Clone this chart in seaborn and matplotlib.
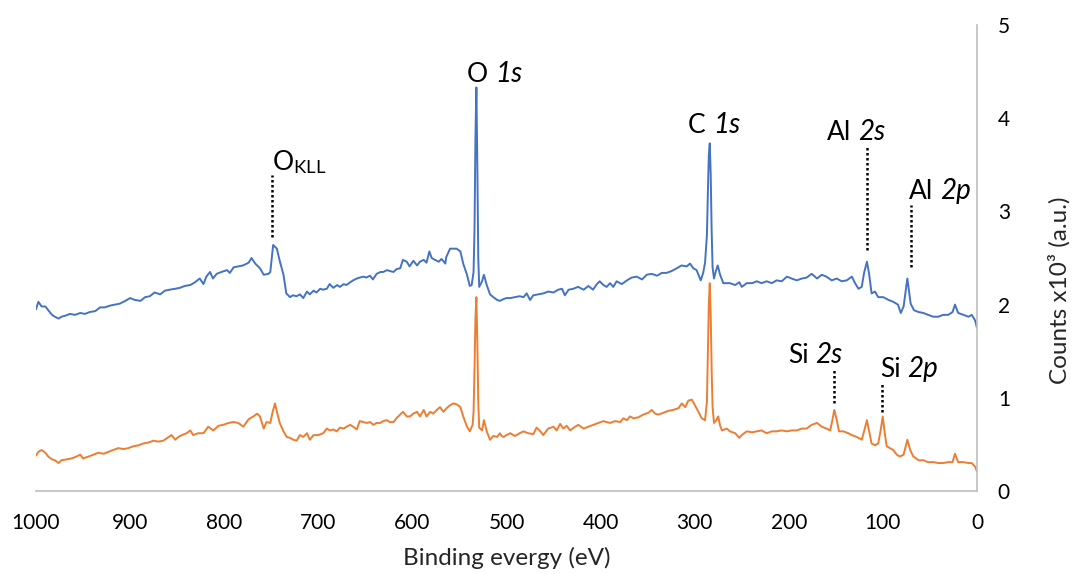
import matplotlib
matplotlib.use("Agg")
import matplotlib.pyplot as plt
import seaborn as sns
import pandas as pd

# ---- data ----
blue_energy = [
    1000, 997.5, 994, 990, 987, 983, 980, 976, 973, 969, 964, 958.6, 953, 948, 943, 937, 932, 927,
    921, 916, 911, 905, 900, 895, 889, 884, 879, 874, 868, 863, 858, 852, 847, 842, 836, 831, 826,
    822, 819, 815, 812, 808, 803, 797, 794, 790, 785, 780, 774, 771, 767, 762, 758, 753, 751, 748,
    744, 741, 737, 734, 730, 727, 723, 719.5, 716, 712, 709, 705, 702, 698, 695, 691, 688, 684, 680,
    677, 673, 670, 666, 663, 659, 656, 652, 649, 645, 642, 638, 634, 631, 627, 624, 620, 617, 613,
    610, 606, 603, 599, 595, 592, 588, 585, 582, 579.5, 576, 572, 569, 565, 564, 560, 556.5, 553,
    549, 546, 542, 539, 537, 535, 534, 533, 532, 531, 530, 529, 526, 524, 521, 517.5, 514, 510, 507,
    503, 500, 496, 491, 486, 482, 478.5, 475, 471.5, 466, 461, 455.5, 450, 445, 441, 438, 434, 429,
    424, 418, 413, 408, 404, 401, 397, 393.5, 390, 386.5, 383, 377.5, 372, 367, 361.6, 356, 351,
    345.7, 340, 335, 330, 324.5, 319, 314, 308.5, 305, 301.5, 298, 293.6, 291, 289, 287, 286, 285,
    284, 283, 282, 281, 279.5, 277.5, 275.5, 273, 269.6, 266, 262.5, 257, 252.6, 250, 244.7, 239,
    234, 229, 223.5, 218, 213, 207.5, 202, 197, 191.6, 186, 181, 175.7, 170, 165, 160, 154.4, 149,
    143.8, 138.5, 133, 129.6, 126, 122.5, 120, 117, 114.8, 112, 108.4, 105, 99.6, 94, 89, 84, 81, 78,
    74, 70.5, 67, 62, 57, 52, 46.4, 41, 36, 30.5, 26, 23.4, 20, 14.6, 9, 5.6, 2, 0]
blue_counts = [
    1.95, 2.03, 1.98, 1.98, 1.94, 1.89, 1.87, 1.85, 1.87, 1.88, 1.90, 1.89, 1.91, 1.90, 1.92, 1.93, 1.97, 1.97,
    1.99, 2.00, 2.01, 2.04, 2.07, 2.05, 2.04, 2.08, 2.09, 2.13, 2.11, 2.15, 2.16, 2.17, 2.18, 2.20, 2.21, 2.24, 2.28,
    2.22, 2.30, 2.35, 2.28, 2.33, 2.35, 2.37, 2.34, 2.40, 2.41, 2.42, 2.45, 2.50, 2.44, 2.39, 2.32, 2.33, 2.35, 2.64,
    2.60, 2.47, 2.32, 2.12, 2.08, 2.10, 2.09, 2.11, 2.07, 2.14, 2.11, 2.15, 2.13, 2.17, 2.16, 2.17, 2.22, 2.18, 2.21,
    2.19, 2.22, 2.21, 2.24, 2.26, 2.28, 2.29, 2.30, 2.29, 2.31, 2.27, 2.33, 2.35, 2.35, 2.37, 2.36, 2.35, 2.38, 2.39,
    2.48, 2.46, 2.41, 2.47, 2.42, 2.46, 2.48, 2.45, 2.57, 2.50, 2.48, 2.46, 2.49, 2.44, 2.51, 2.60, 2.60, 2.60,
    2.57, 2.44, 2.32, 2.20, 2.21, 2.35, 2.80, 3.80, 4.33, 3.50, 2.50, 2.19, 2.25, 2.32, 2.21, 2.11, 2.08, 2.05, 2.04,
    2.06, 2.07, 2.07, 2.08, 2.09, 2.08, 2.12, 2.05, 2.10, 2.11, 2.12, 2.14, 2.13, 2.16, 2.17, 2.10, 2.16, 2.17,
    2.19, 2.16, 2.20, 2.16, 2.22, 2.25, 2.21, 2.19, 2.23, 2.19, 2.25, 2.22, 2.26, 2.29, 2.30, 2.27, 2.32,
    2.33, 2.31, 2.34, 2.34, 2.36, 2.39, 2.42, 2.41, 2.44, 2.39, 2.37, 2.26, 2.34, 2.45, 2.75, 3.20, 3.60,
    3.73, 3.40, 2.80, 2.40, 2.28, 2.36, 2.42, 2.32, 2.23, 2.23, 2.23, 2.21, 2.24, 2.19, 2.23, 2.23,
    2.25, 2.23, 2.25, 2.23, 2.26, 2.25, 2.30, 2.28, 2.26, 2.28, 2.29, 2.33, 2.28, 2.32, 2.30, 2.26, 2.28,
    2.25, 2.26, 2.30, 2.23, 2.17, 2.19, 2.34, 2.46, 2.34, 2.12, 2.14, 2.08, 2.08, 2.05, 2.03, 2.00, 1.91, 1.98,
    2.28, 2.01, 1.94, 1.92, 1.91, 1.89, 1.87, 1.87, 1.89, 1.89, 1.92, 2.00, 1.91, 1.89, 1.87, 1.89, 1.83, 1.75]

orange_energy = [
    1000, 997.5, 994, 990, 987, 983, 980, 976, 973, 967, 962, 957, 953, 950, 944, 939, 934, 928, 923,
    918, 912.5, 907, 902, 896.6, 891, 886, 880.6, 875, 870, 864.7, 859, 856, 852, 848.7, 845, 840, 836,
    833, 827.5, 822, 817, 811.6, 806, 801, 795.6, 790, 785, 779.7, 774, 769, 765, 762, 758, 755, 751,
    748.5, 746, 743.5, 741, 737, 733.6, 730, 726.6, 723, 719.5, 716, 712, 709, 705, 700, 694.7, 691,
    687.6, 684, 680.5, 677, 673, 670, 666, 663, 659, 656, 652, 648.6, 645, 641.5, 638, 634.4, 631, 627,
    624, 620, 617, 613, 610, 606, 602.6, 599, 595, 592, 588, 585, 581, 578, 574, 570.7, 567, 563.5, 560,
    556.5, 553, 549, 546, 542, 539, 536, 535, 534, 533, 532, 531, 530, 529, 526, 524, 521, 517.5, 514,
    510, 507, 505, 503, 500, 496, 491, 486, 482, 477, 471.5, 468, 464, 461, 455.6, 450, 446.7, 443,
    439.6, 436, 432.5, 427, 423.7, 418, 413, 407.8, 402.4, 397, 393.5, 390, 384.7, 379, 375.9, 372,
    368.8, 365, 360, 354.6, 349, 345.7, 342, 338.7, 333, 328, 322.7, 317, 313.8, 310, 306.8, 303, 299.7,
    296, 292.6, 289, 287, 286, 285, 284, 283, 282, 281, 279.5, 277, 275, 273, 271, 266, 262.5, 257,
    252.6, 250, 244.7, 239, 234, 229, 223.5, 218, 213, 207.5, 202, 197, 191.6, 186, 181, 175.7, 170, 165,
    160, 156, 153.7, 151.6, 149, 146.7, 142, 136.8, 133, 127.8, 122.5, 120, 117, 114.8, 112, 108.4, 105,
    102.4, 100.2, 98, 96, 92.5, 89, 85.3, 82, 78, 74, 71, 67.7, 62, 57, 52, 46.4, 41, 36, 30.5, 26, 23.4,
    20, 14.6, 9, 5.6, 2, 0]
orange_counts = [
    0.38, 0.42, 0.44, 0.41, 0.37, 0.34, 0.33, 0.30, 0.33, 0.34, 0.35, 0.37, 0.39, 0.35, 0.37, 0.39, 0.41, 0.40, 0.42,
    0.44, 0.46, 0.45, 0.46, 0.48, 0.49, 0.51, 0.52, 0.54, 0.53, 0.54, 0.58, 0.60, 0.55, 0.58, 0.60, 0.62, 0.65,
    0.60, 0.62, 0.62, 0.69, 0.65, 0.70, 0.71, 0.73, 0.74, 0.73, 0.69, 0.77, 0.80, 0.83, 0.80, 0.67, 0.74, 0.73,
    0.85, 0.94, 0.83, 0.73, 0.64, 0.58, 0.57, 0.55, 0.54, 0.60, 0.58, 0.62, 0.55, 0.60, 0.60, 0.62, 0.67,
    0.65, 0.66, 0.64, 0.68, 0.67, 0.69, 0.71, 0.69, 0.66, 0.75, 0.74, 0.73, 0.74, 0.71, 0.73, 0.73, 0.75, 0.76,
    0.74, 0.74, 0.78, 0.82, 0.85, 0.80, 0.80, 0.83, 0.85, 0.80, 0.87, 0.80, 0.85, 0.83, 0.87, 0.90, 0.85, 0.89, 0.92,
    0.94, 0.93, 0.90, 0.80, 0.69, 0.64, 0.71, 0.85, 1.30, 1.85, 2.08, 1.60, 0.95, 0.68, 0.65, 0.76, 0.64, 0.55, 0.59,
    0.58, 0.62, 0.59, 0.58, 0.60, 0.62, 0.59, 0.62, 0.64, 0.62, 0.61, 0.68, 0.64, 0.60, 0.67, 0.69, 0.65, 0.72,
    0.67, 0.70, 0.65, 0.69, 0.71, 0.67, 0.69, 0.71, 0.73, 0.75, 0.74, 0.73, 0.75, 0.74, 0.78, 0.76,
    0.80, 0.78, 0.79, 0.82, 0.84, 0.87, 0.83, 0.82, 0.84, 0.86, 0.87, 0.89, 0.94, 0.90, 0.97, 0.98, 0.92,
    0.85, 0.78, 0.76, 0.96, 1.50, 2.00, 2.23, 1.90, 1.30, 0.90, 0.73, 0.76, 0.80, 0.70, 0.65, 0.67, 0.64, 0.62,
    0.57, 0.60, 0.64, 0.63, 0.64, 0.65, 0.62, 0.64, 0.64, 0.65, 0.64, 0.65, 0.65, 0.67, 0.67, 0.71, 0.73, 0.69,
    0.67, 0.65, 0.76, 0.87, 0.76, 0.64, 0.64, 0.62, 0.60, 0.58, 0.55, 0.64, 0.76, 0.65, 0.51, 0.49, 0.51,
    0.65, 0.80, 0.62, 0.48, 0.46, 0.44, 0.39, 0.37, 0.39, 0.55, 0.44, 0.37, 0.33, 0.33, 0.31, 0.31, 0.30, 0.30, 0.31, 0.31, 0.40,
    0.31, 0.31, 0.30, 0.30, 0.26, 0.21]

x_ticks = [1000, 900, 800, 700, 600, 500, 400, 300, 200, 100, 0]
y_ticks = [0, 1, 2, 3, 4, 5]

# peak labels: (regular part, italic part, left edge energy, baseline counts)
peak_labels = [
    ("O", "1s", 542, 4.39),
    ("C", "1s", 307, 3.84),
    ("Al", "2s", 159, 3.77),
    ("Al", "2p", 72, 3.13),
    ("Si", "2s", 201, 1.37),
    ("Si", "2p", 103, 1.22),
]
okll_label = (r"O$_{\mathrm{KLL}}$", 749, 3.44)
# dotted guide lines: (energy, lower counts, upper counts)
guides = [(749, 2.73, 3.39), (117, 2.59, 3.71), (70, 2.40, 3.07), (152, 0.94, 1.32), (101, 0.85, 1.17)]

df = pd.concat([
    pd.DataFrame({"energy": blue_energy, "counts": blue_counts, "sample": "A"}),
    pd.DataFrame({"energy": orange_energy, "counts": orange_counts, "sample": "B"}),
])

sns.set_theme(style="white")
plt.rcParams["font.family"] = ["Lato", "DejaVu Sans"]
plt.rcParams["mathtext.fontset"] = "custom"
plt.rcParams["mathtext.rm"] = "Lato"
plt.rcParams["mathtext.it"] = "Lato:italic"

fig = plt.figure(figsize=(10.75, 5.74), dpi=100)
ax = fig.add_axes([36 / 1075, 1 - 491 / 574, (977 - 36) / 1075, (491 - 25) / 574])

sns.lineplot(data=df, x="energy", y="counts", hue="sample",
             palette={"A": "#4472C4", "B": "#ED7D31"}, estimator=None,
             linewidth=1.4, legend=False, ax=ax)

ax.set_xlim(1000, 0)
ax.set_ylim(0, 5)
ax.set_xticks(x_ticks)
ax.set_yticks(y_ticks)
ax.yaxis.tick_right()
ax.yaxis.set_label_position("right")
ax.tick_params(axis="both", length=0, labelsize=15, colors="black")
ax.tick_params(axis="x", pad=16)
ax.tick_params(axis="y", pad=15)

for side in ["left", "top"]:
    ax.spines[side].set_visible(False)
for side in ["right", "bottom"]:
    ax.spines[side].set_color("#BFBFBF")
    ax.spines[side].set_linewidth(1.2)

ax.set_xlabel("Binding evergy (eV)", fontsize=17.5, labelpad=10)
ax.set_ylabel("Counts x10³ (a.u.)", fontsize=17.5)
ax.yaxis.set_label_coords(1.0755, 0.431)

ANN_FS = 19
for reg, ital, e_left, yb in peak_labels:
    t1 = ax.text(e_left, yb, reg, fontsize=ANN_FS, ha="left", va="baseline", color="black")
    ax.annotate(ital, xy=(1, 0), xycoords=t1, xytext=(5, 0), textcoords="offset points",
                fontsize=ANN_FS + 1, ha="left", va="bottom", fontstyle="italic", color="black")

ax.text(okll_label[1], okll_label[2], okll_label[0], fontsize=ANN_FS, ha="left",
        va="baseline", color="black")

for e, lo, hi in guides:
    ax.plot([e, e], [lo, hi], color="black", linestyle=(0, (1, 1)), linewidth=1.8)

fig.savefig("out.png", dpi=100)
